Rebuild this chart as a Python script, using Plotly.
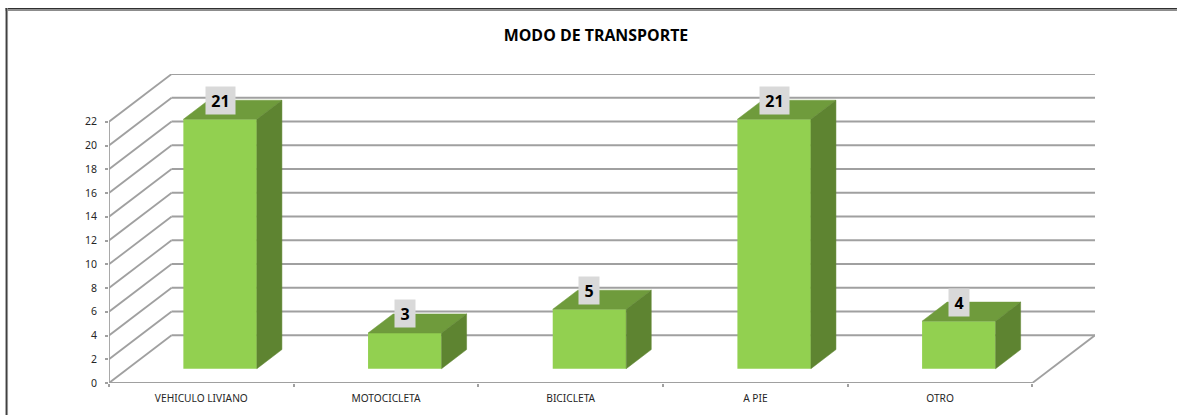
import plotly.graph_objects as go

# Data
categories = ["VEHICULO LIVIANO", "MOTOCICLETA", "BICICLETA", "A PIE", "OTRO"]
values = [21, 3, 5, 21, 4]
y_ticks = list(range(0, 23, 2))

# Pixel frame of the chart, used only to set axes and depth projection
W, H = 1177, 415
PX_LEFT, PX_FRONT_RIGHT, PX_BACK_RIGHT = 108.5, 1030.5, 1095
PX_BOTTOM, PX_TOP22 = 382.7, 121.7
DEPTH_PX_X, DEPTH_PX_Y = 62.5, 47.7
PX_TOP = PX_TOP22 - DEPTH_PX_Y

n = len(categories)
unit_x = (PX_FRONT_RIGHT - PX_LEFT) / n
unit_y = (PX_BOTTOM - PX_TOP22) / 22
dx = DEPTH_PX_X / unit_x          # full depth in x-axis units
dy = DEPTH_PX_Y / unit_y          # full depth in y-axis units
y_max = 22 + dy
x_max = n + dx
BAR_W = 0.398
D0, D1 = 0.30, 0.70               # bar front and back depth fractions

GRID = "#a0a0a0"
FRONT, TOP, SIDE = "#92D050", "#6F9B3C", "#5E8431"

grid_line = dict(color=GRID, width=1.8)
shapes = []
for t in y_ticks:
    # side wall diagonal and back wall line
    shapes.append(dict(type="line", layer="below", x0=0, y0=t, x1=dx, y1=t + dy, line=grid_line))
    shapes.append(dict(type="line", layer="below", x0=dx, y0=t + dy, x1=x_max, y1=t + dy, line=grid_line))
# floor
shapes.append(dict(type="line", layer="below", x0=0, y0=0, x1=n, y1=0, line=grid_line))
shapes.append(dict(type="line", layer="below", x0=n, y0=0, x1=x_max, y1=dy, line=grid_line))
# vertical axis
shapes.append(dict(type="line", layer="below", x0=0, y0=0, x1=0, y1=22, line=grid_line))


def px_x(p):
    return (p - PX_LEFT) / (PX_BACK_RIGHT - PX_LEFT)


def px_y(p):
    return (PX_BOTTOM - p) / (PX_BOTTOM - PX_TOP)


# outer window frame (top and left edges)
for y0, y1, c in [(8, 9.5, "#303030"), (9.5, 11, "#8c8c8c")]:
    shapes.append(dict(type="rect", xref="paper", yref="paper", x0=px_x(5), x1=px_x(W), y0=px_y(y1), y1=px_y(y0),
                       fillcolor=c, line=dict(width=0), layer="above"))
for x0, x1, c in [(5, 6.5, "#404040"), (6.5, 7.5, "#909090")]:
    shapes.append(dict(type="rect", xref="paper", yref="paper", x0=px_x(x0), x1=px_x(x1), y0=px_y(H), y1=px_y(8),
                       fillcolor=c, line=dict(width=0), layer="above"))

fig = go.Figure()

centers = [i + 0.5 for i in range(n)]
fig.add_trace(go.Bar(
    x=[c + D0 * dx for c in centers],
    y=values,
    base=[D0 * dy] * n,
    width=BAR_W,
    marker=dict(color=FRONT, line=dict(width=0)),
    hoverinfo="skip",
    showlegend=False,
))

annotations = []
for c, v in zip(centers, values):
    xl = c + D0 * dx - BAR_W / 2
    xr = c + D0 * dx + BAR_W / 2
    off_x = (D1 - D0) * dx
    off_y = (D1 - D0) * dy
    base = D0 * dy
    top = base + v
    fig.add_trace(go.Scatter(
        x=[xl, xr, xr + off_x, xl + off_x, xl],
        y=[top, top, top + off_y, top + off_y, top],
        mode="lines", fill="toself", fillcolor=TOP, line=dict(color=TOP, width=0.5),
        hoverinfo="skip", showlegend=False))
    fig.add_trace(go.Scatter(
        x=[xr, xr + off_x, xr + off_x, xr, xr],
        y=[base, base + off_y, top + off_y, top, base],
        mode="lines", fill="toself", fillcolor=SIDE, line=dict(color=SIDE, width=0.5),
        hoverinfo="skip", showlegend=False))
    annotations.append(dict(
        x=c + D0 * dx, y=top + off_y, xref="x", yref="y", text=f"<b>{v}</b>", showarrow=False,
        font=dict(family="Open Sans", size=16, color="#000000"),
        bgcolor="#D9D9D9", borderpad=0, width=29 if v >= 10 else 20, height=27,
        align="center", valign="middle", xanchor="center", yanchor="middle"))

fig.update_layout(
    width=W, height=H,
    autosize=False,
    margin=dict(l=PX_LEFT, r=W - PX_BACK_RIGHT, t=PX_TOP, b=H - PX_BOTTOM, pad=0, autoexpand=False),
    paper_bgcolor="white", plot_bgcolor="white",
    title=dict(text="<b>MODO DE TRANSPORTE</b>", x=596 / W, xanchor="center", xref="container",
               y=1 - 35 / H, yanchor="middle", yref="container",
               font=dict(family="Open Sans", size=15.9, color="#000000")),
    shapes=shapes,
    annotations=annotations,
    xaxis=dict(range=[0, x_max], tickmode="array", tickvals=centers, ticktext=categories, automargin=False,
               showgrid=False, zeroline=False, showline=False, ticks="", ticklabelstandoff=8,
               tickfont=dict(family="Noto Sans", size=10.2, color="#262626"),
               minor=dict(tickmode="array", tickvals=list(range(n + 1)), ticks="outside", ticklen=3,
                          tickcolor=GRID, tickwidth=1.5, showgrid=False)),
    yaxis=dict(range=[0, y_max], tickmode="array", tickvals=y_ticks, automargin=False,
               showgrid=False, zeroline=False, showline=False, ticks="outside", ticklen=3,
               tickcolor=GRID, tickwidth=1.5, ticklabelstandoff=6,
               tickfont=dict(family="Noto Sans", size=10.5, color="#262626")),
)

fig.write_html("out.html", post_script="document.body.style.margin='0';",
               config=dict(displayModeBar=False))
